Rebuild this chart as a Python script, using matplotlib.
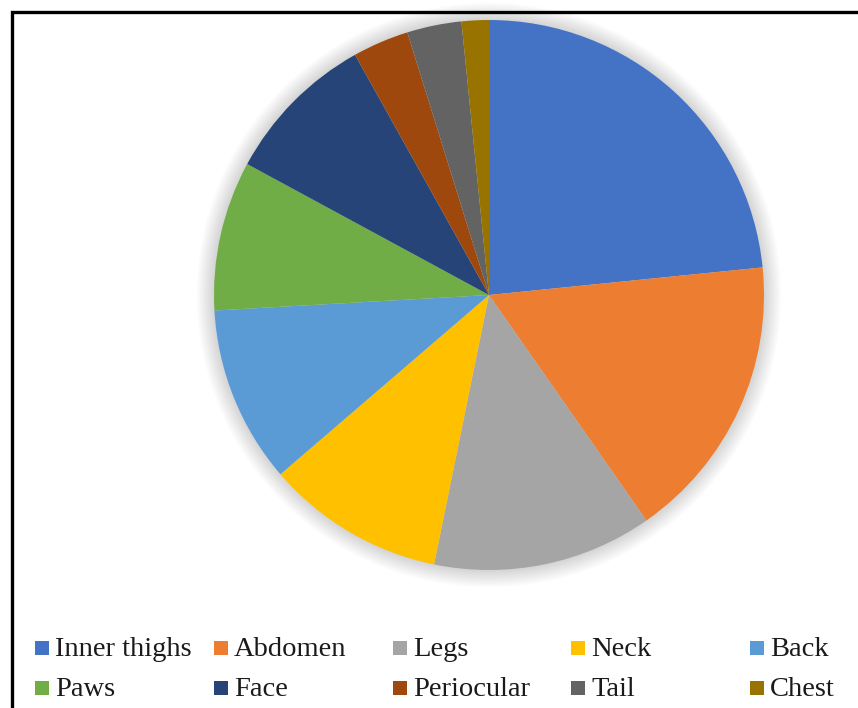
import matplotlib.pyplot as plt
from matplotlib.patches import Circle, Rectangle
from matplotlib.lines import Line2D

# Body sites and share of cases (%)
sites = ['Inner thighs', 'Abdomen', 'Legs', 'Neck', 'Back',
         'Paws', 'Face', 'Periocular', 'Tail', 'Chest']
share = [23.4, 16.9, 12.9, 10.5, 10.4, 8.8, 9.0, 3.3, 3.2, 1.6]
colors = ['#4472C4', '#ED7D31', '#A5A5A5', '#FFC000', '#5B9BD5',
          '#70AD47', '#264478', '#9E480E', '#636363', '#997300']

plt.rcParams['font.family'] = ['Liberation Serif', 'DejaVu Serif']

W, H = 858, 708
fig = plt.figure(figsize=(W / 100, H / 100), dpi=100)
fig.patch.set_facecolor('white')

# pie area: centre (489, 295) px, radius 275 px
cx, cy, r = 489, 295, 275
ax = fig.add_axes([(cx - r) / W, (H - cy - r) / H, 2 * r / W, 2 * r / H])
ax.axis('off')

# soft shadow around the pie
for k in range(14):
    ax.add_patch(Circle((0, 0), 1 + 0.0045 * (k + 1), facecolor='#000000',
                        alpha=0.012, edgecolor='none', zorder=0,
                        clip_on=False))

wedges, _ = ax.pie(share, colors=colors, startangle=90, counterclock=False,
                   radius=1, wedgeprops=dict(linewidth=0))
for w in wedges:
    w.set_clip_on(False)
ax.set_xlim(-1, 1)
ax.set_ylim(-1, 1)
ax.set_aspect('equal')

# legend: 5 columns, filled row by row
col_x = [35, 214, 393, 571, 750]
row_y = [648, 688]
box = 14
for i, (name, c) in enumerate(zip(sites, colors)):
    x = col_x[i % 5]
    y = row_y[i // 5]
    fig.add_artist(Rectangle((x / W, 1 - (y + box / 2) / H), box / W, box / H,
                             transform=fig.transFigure, facecolor=c,
                             edgecolor='none'))
    fig.text((x + box + 6) / W, 1 - (y + 1) / H, name, fontsize=20.5,
             ha='left', va='center', color='#1a1a1a')

# frame around the chart (runs off the right and bottom edges)
fig.add_artist(Line2D([1.01, 11.5 / W, 11.5 / W],
                      [1 - 11.5 / H, 1 - 11.5 / H, -0.01],
                      transform=fig.transFigure, color='black', lw=2.4,
                      solid_joinstyle='miter'))

fig.savefig('out.png', dpi=100)
